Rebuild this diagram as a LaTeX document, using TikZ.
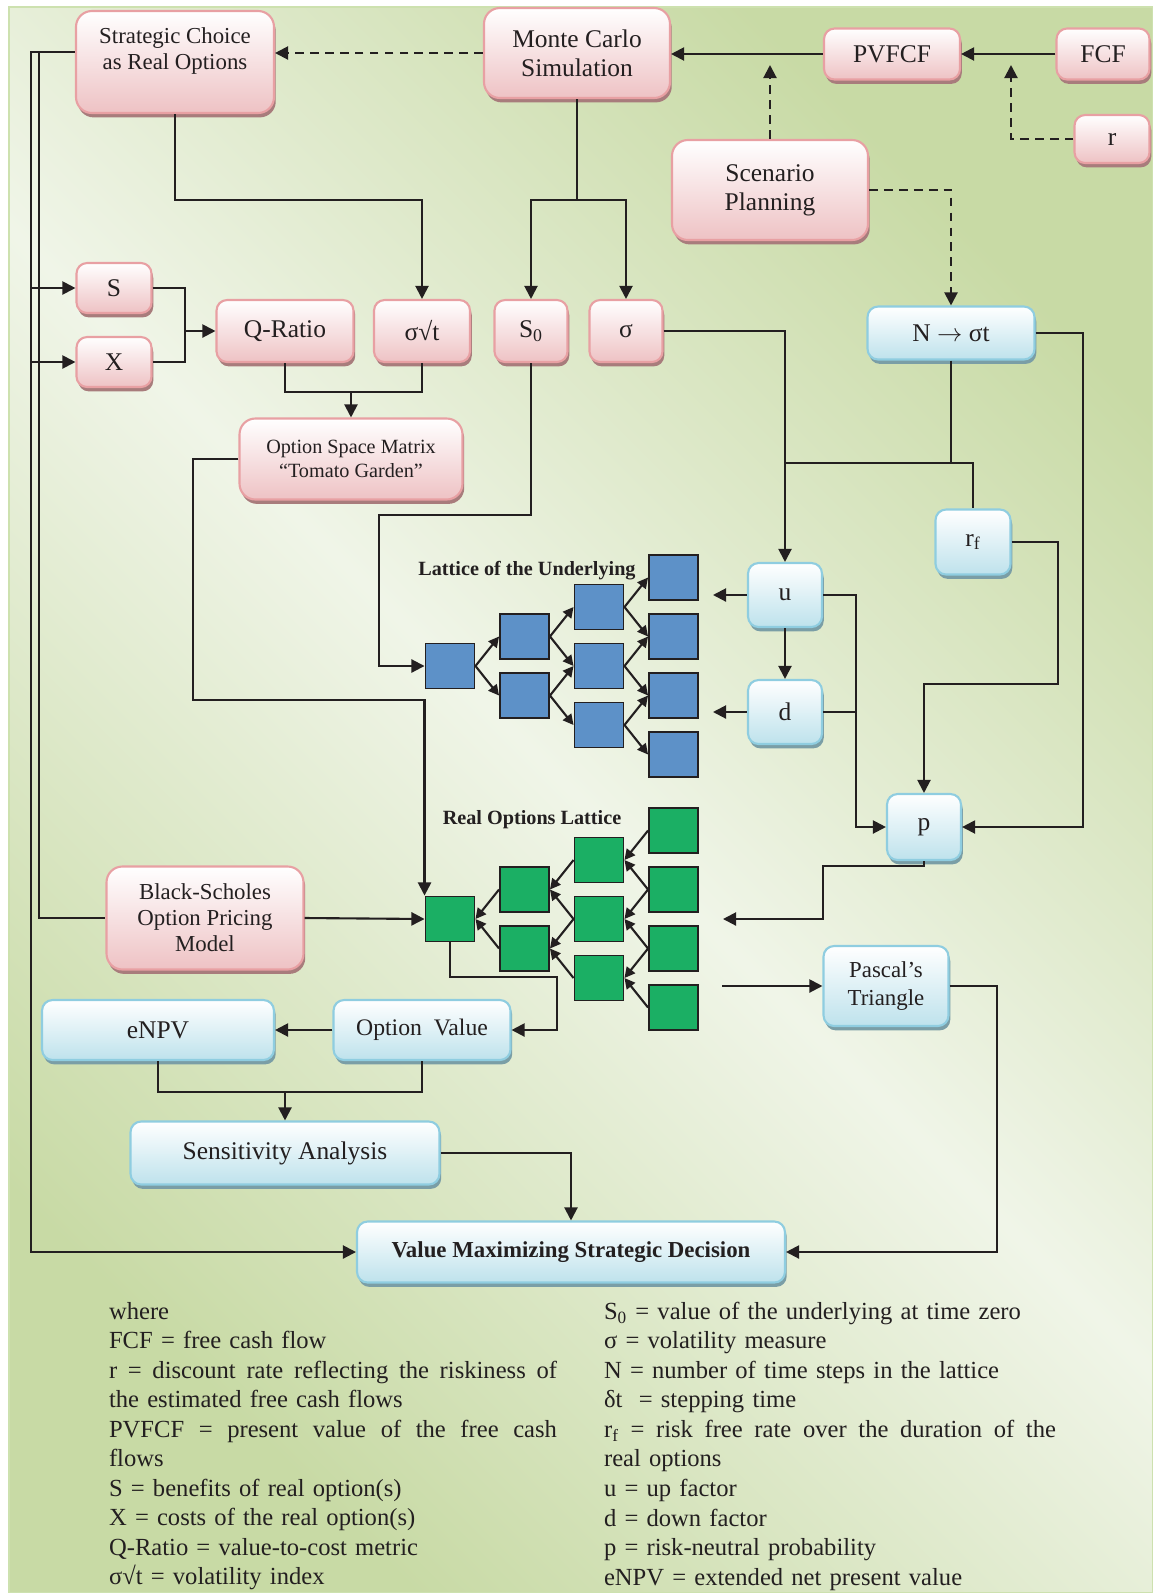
\documentclass[tikz,border=0pt]{standalone}
\usepackage{fontspec}
\setmainfont{Liberation Serif}
\usetikzlibrary{arrows.meta,shadows}

\definecolor{inkcol}{RGB}{35,31,32}
\definecolor{pinkline}{RGB}{232,160,163}
\definecolor{pinkbot}{RGB}{238,194,196}
\definecolor{pinkshadow}{RGB}{168,124,124}
\definecolor{blueline}{RGB}{143,205,224}
\definecolor{bluebot}{RGB}{190,226,236}
\definecolor{blueshadow}{RGB}{122,158,166}
\definecolor{latblue}{RGB}{93,145,200}
\definecolor{latgreen}{RGB}{27,175,100}
\definecolor{bglight}{RGB}{240,245,232}
\definecolor{bgdark}{RGB}{200,218,165}
\definecolor{bgline}{RGB}{205,225,175}

\begin{document}
\begin{tikzpicture}[x=0.02cm,y=-0.02cm,>={Triangle[length=7.5pt,width=7.5pt]},
                    line width=1.2pt,color=inkcol,
                    flow box/.style={rectangle,rounded corners=6pt,line width=1.2pt,
                      align=center,inner sep=2pt,text=inkcol,
                      font=\fontsize{14.5}{16.7}\selectfont},
                    pink node/.style={flow box,draw=pinkline,top color=white,bottom color=pinkbot,
                      drop shadow={shadow xshift=1pt,shadow yshift=-2.5pt,fill=pinkshadow,opacity=1}},
                    blue node/.style={flow box,draw=blueline,top color=white,bottom color=bluebot,
                      drop shadow={shadow xshift=1pt,shadow yshift=-2.5pt,fill=blueshadow,opacity=1}},
                    lat node/.style={rectangle,draw=inkcol,line width=1.1pt,inner sep=0pt,
                      minimum width=0.98cm,minimum height=0.9cm},
                    blue lat/.style={lat node,fill=latblue},
                    green lat/.style={lat node,fill=latgreen},
                    lat arrow/.style={->,>={Triangle[length=6pt,width=6pt]}},
                    dashline/.style={dash pattern=on 5pt off 3.5pt},
                    key text/.style={anchor=north west,inner sep=0pt,align=left,text width=9.1cm,
                      text=inkcol,font=\fontsize{14}{16.8}\selectfont}]
  \useasboundingbox (0,0) rectangle (1153,1593);
  \shadedraw[top color=bgdark,bottom color=bgdark,middle color=bglight,shading angle=-45,
             draw=bgline,line width=0.8pt] (9,7) rectangle (1153,1593);

  % upper row
  \node[pink node,minimum width=3.96cm,minimum height=2.04cm,rounded corners=9pt,
        font=\fontsize{13}{14.8}\selectfont] (strat) at (175,62) {Strategic Choice\\as Real Options\\\mbox{}};
  \node[pink node,minimum width=3.72cm,minimum height=1.8cm,rounded corners=9pt] (monte) at (577,53) {Monte Carlo\\Simulation};
  \node[pink node,minimum width=2.72cm,minimum height=1.02cm] (pvfcf) at (892,54) {PVFCF};
  \node[pink node,minimum width=1.86cm,minimum height=1.02cm] (fcf) at (1103,54) {FCF};
  \node[pink node,minimum width=1.5cm,minimum height=0.96cm] (rr) at (1112,139) {r};
  \node[pink node,minimum width=3.92cm,minimum height=2cm,rounded corners=9pt] (scen) at (770,190) {Scenario\\Planning};

  % inputs
  \node[pink node,minimum width=1.5cm,minimum height=1cm] (S) at (114,288) {S};
  \node[pink node,minimum width=1.5cm,minimum height=1cm] (X) at (114,362) {X};
  \node[pink node,minimum width=2.74cm,minimum height=1.24cm] (qratio) at (285,331) {Q-Ratio};
  \node[pink node,minimum width=1.92cm,minimum height=1.24cm] (sigsqrt) at (422,331) {σ√t};
  \node[pink node,minimum width=1.46cm,minimum height=1.24cm] (szero) at (531,331) {S\textsubscript{0}};
  \node[pink node,minimum width=1.46cm,minimum height=1.24cm] (sigma) at (626,331) {σ};
  \node[blue node,minimum width=3.34cm,minimum height=1.06cm] (nsig) at (951,333) {N $\rightarrow$ σt};
  \node[pink node,minimum width=4.46cm,minimum height=1.62cm,rounded corners=9pt,
        font=\fontsize{11.5}{13.6}\selectfont] (osm) at (351,459) {Option Space Matrix\\“Tomato Garden”};

  % lattice factors
  \node[blue node,minimum width=1.48cm,minimum height=1.28cm] (u) at (785,595) {u};
  \node[blue node,minimum width=1.48cm,minimum height=1.28cm] (d) at (785,712) {d};
  \node[blue node,minimum width=1.5cm,minimum height=1.3cm] (rf) at (973,542) {r\textsubscript{f}};
  \node[blue node,minimum width=1.48cm,minimum height=1.32cm] (p) at (924,827) {p};

  % lattices
  \node[font=\bfseries\fontsize{11.5}{13}\selectfont] (latu) at (527,571) {Lattice of the Underlying};
  \node[font=\bfseries\fontsize{11.5}{13}\selectfont] (latro) at (532,820) {Real Options Lattice};
  \foreach \i in {0,...,3} {
    \foreach \j in {0,...,\i} {
      \node[blue lat] (b\i\j) at ({450+74.5*\i},{666+59*(\j-\i/2)}) {};
      \node[green lat] (g\i\j) at ({450+74.5*\i},{919+59*(\j-\i/2)}) {};
    }
  }
  \foreach \i in {0,1,2} {
    \foreach \j in {0,...,\i} {
      \pgfmathtruncatemacro\k{\i+1}
      \pgfmathtruncatemacro\m{\j+1}
      \draw[lat arrow] (b\i\j.east) -- (b\k\j.west);
      \draw[lat arrow] (b\i\j.east) -- (b\k\m.west);
      \draw[lat arrow] (g\k\j.west) -- (g\i\j.east);
      \draw[lat arrow] (g\k\m.west) -- (g\i\j.east);
    }
  }

  % lower part
  \node[pink node,minimum width=3.94cm,minimum height=2.06cm,rounded corners=9pt,
        font=\fontsize{13}{14.8}\selectfont] (bs) at (205,918) {Black-Scholes\\Option Pricing\\Model};
  \node[blue node,minimum width=2.5cm,minimum height=1.6cm,
        font=\fontsize{13}{15.5}\selectfont] (pascal) at (886,986) {Pascal’s\\Triangle};
  \node[blue node,minimum width=4.64cm,minimum height=1.2cm] (enpv) at (158,1030) {eNPV};
  \node[blue node,minimum width=3.54cm,minimum height=1.2cm,
        font=\fontsize{13.5}{16}\selectfont] (optval) at (422,1030) {Option~ Value};
  \node[blue node,minimum width=6.18cm,minimum height=1.26cm] (sens) at (285,1153) {Sensitivity Analysis};
  \node[blue node,minimum width=8.56cm,minimum height=1.22cm,
        font=\fontsize{13}{15}\selectfont\bfseries] (vmsd) at (571,1252) {Value Maximizing Strategic Decision};

  % bends and free ends
  \coordinate (ltop) at (31,52);
  \coordinate (ltop2) at (39,52);
  \coordinate (rtip) at (1011,65);
  \coordinate (stip) at (770,65);
  \coordinate (mcsplit) at (577,200);
  \coordinate (sxjoin) at (185,331);
  \coordinate (qsjoin) at (351,392);
  \coordinate (szbend) at (379,515);
  \coordinate (osmbend) at (193,700);
  \coordinate (nsjoin) at (951,463);
  \coordinate (nsbend) at (1083,827);
  \coordinate (rfbend) at (1058,684);
  \coordinate (udbend) at (856,827);
  \coordinate (utip) at (713,595);
  \coordinate (dtip) at (713,712);
  \coordinate (pbend) at (823,866);
  \coordinate (ptip) at (723,919);
  \coordinate (gtail) at (722,986);
  \coordinate (gbend) at (557,977);
  \coordinate (evjoin) at (285,1092);
  \coordinate (pasbend) at (997,1252);

  % connectors
  \draw[->,dashline] (monte.west) -- (monte.west -| strat.east);
  \draw[->] (pvfcf.west) -- (pvfcf.west -| monte.east);
  \draw[->] (fcf.west) -- (pvfcf.east);
  \draw[->,dashline] (rr.west) -| (rtip);
  \draw[->,dashline] (scen.north) -- (stip);
  \draw[->,dashline] (scen.east) -| (nsig.north);
  \draw (monte.south) -- (mcsplit);
  \draw[->] (mcsplit) -| (szero.north);
  \draw[->] (mcsplit) -| (sigma.north);
  \draw[->] (strat.south) -- (strat.south |- mcsplit) -| (sigsqrt.north);
  \draw[->] (strat.west |- ltop) -- (ltop) |- (vmsd.west);
  \draw (ltop2) |- (bs.west);
  \draw[->] (ltop |- S.west) -- (S.west);
  \draw[->] (ltop |- X.west) -- (X.west);
  \draw (S.east) -| (sxjoin) |- (X.east);
  \draw[->] (sxjoin) -- (qratio.west);
  \draw (qratio.south) |- (qsjoin) -| (sigsqrt.south);
  \draw[->] (qsjoin) -- (osm.north);
  \draw[->] (szero.south) |- (szbend) |- (b00.west);
  \draw[->] (osm.west) -| (osmbend) -| (g00.north west);
  \draw[->] (bs.east) -- (g00.west);
  \draw[->] (g00.south) |- (gbend) |- (optval.east);
  \draw[->] (optval.west) -- (enpv.east);
  \draw (enpv.south) |- (evjoin) -| (optval.south);
  \draw[->] (evjoin) -- (sens.north);
  \draw[->] (sens.east) -| (vmsd.north);
  \draw[->] (pascal.east) -| (pasbend) -- (vmsd.east);
  \draw[->] (gtail) -- (pascal.west);
  \draw[->] (p.south) |- (pbend) |- (ptip);
  \draw[->] (sigma.east) -| (u.north);
  \draw (nsig.south) -- (nsjoin) -- (nsjoin -| u.north);
  \draw (nsjoin) -| (rf.north);
  \draw[->] (nsig.east) -| (nsbend) -- (p.east);
  \draw[->] (rf.east) -| (rfbend) -| (p.north);
  \draw[->] (u.west) -- (utip);
  \draw[->] (d.west) -- (dtip);
  \draw[->] (u.south) -- (d.north);
  \draw[->] (u.east) -| (udbend) -- (p.west);
  \draw (d.east) -- (d.east -| udbend);

  % key
  \node[key text] (keyl) at (108,1301) {where\\
    FCF = free cash flow\\
    \makebox[8.96cm][l]{r\hfill=\hfill discount\hfill rate\hfill reflecting\hfill the\hfill riskiness\hfill of}\\
    the estimated free cash flows\\
    \makebox[8.96cm][l]{PVFCF\hfill=\hfill present\hfill value\hfill of\hfill the\hfill free\hfill cash}\\
    flows\\
    S = benefits of real option(s)\\
    X = costs of the real option(s)\\
    Q-Ratio = value-to-cost metric\\
    σ√t = volatility index};
  \node[key text] (keyr) at (603,1301) {S\textsubscript{0} = value of the underlying at time zero\\
    σ = volatility measure\\
    N = number of time steps in the lattice\\
    δt~ = stepping time\\
    \makebox[9.04cm][l]{r\textsubscript{f}\hfill=\hfill risk\hfill free\hfill rate\hfill over\hfill the\hfill duration\hfill of\hfill the}\\
    real options\\
    u = up factor\\
    d = down factor\\
    p = risk-neutral probability\\
    eNPV = extended net present value};
\end{tikzpicture}
\end{document}
